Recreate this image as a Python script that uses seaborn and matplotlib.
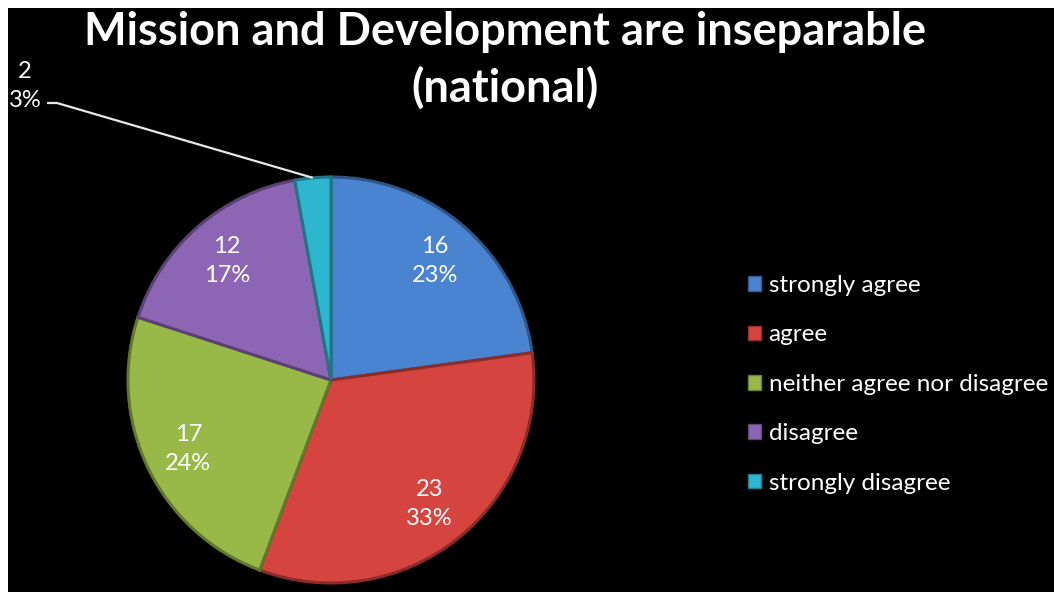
import numpy as np
import matplotlib
matplotlib.use("Agg")
import matplotlib.pyplot as plt
from matplotlib.patches import Rectangle, Patch
import seaborn as sns

# Survey responses
categories = ["strongly agree", "agree", "neither agree nor disagree",
              "disagree", "strongly disagree"]
counts = [16, 23, 17, 12, 2]
colors = ["#4A83CF", "#D6443F", "#98B948", "#8C66B4", "#2EB6CF"]
title = "Mission and Development are inseparable\n(national)"

sns.set_theme(style="dark")
plt.rcParams["font.family"] = ["Lato", "DejaVu Sans"]

W, H = 1054, 592
fig = plt.figure(figsize=(W / 100, H / 100), dpi=100, facecolor="white")
# black chart area
fig.patches.append(Rectangle((8 / W, 0), 1 - 8 / W, 1 - 8 / H,
                             transform=fig.transFigure, facecolor="black",
                             edgecolor="none", zorder=-5))

cx, cy, R = 331, 380, 203
ax = fig.add_axes([(cx - R) / W, (H - cy - R) / H, 2 * R / W, 2 * R / H])
ax.set_zorder(2)
ax.set_facecolor("none")
ax.axis("off")

total = sum(counts)
wedges, _ = ax.pie(counts, colors=colors, startangle=90, counterclock=False,
                   radius=1.0)
ax.set_xlim(-1, 1)
ax.set_ylim(-1, 1)
ax.set_aspect("equal")

# darker rim on each slice for a bevelled look
for w, c in zip(wedges, colors):
    rgb = np.array(matplotlib.colors.to_rgb(c))
    w.set_edgecolor(rgb * 0.65)
    w.set_linewidth(2.2)

# data labels
for w, n in zip(wedges, counts):
    pct = 100 * n / total
    mid = np.deg2rad((w.theta1 + w.theta2) / 2)
    text = f"{n}\n{pct:.0f}%"
    if pct < 5:
        ex, ey = np.cos(mid), np.sin(mid)
        tx, ty = (25 - cx) / R, (cy - 86) / R
        kx, ky = (57 - cx) / R, (cy - 103) / R
        ax.plot([ex, kx, (47 - cx) / R], [ey, ky, ky], color="#e8e8e8",
                lw=1.6, clip_on=False, solid_capstyle="butt")
        ax.text(tx, ty, text, color="white", fontsize=17, ha="center",
                va="center", linespacing=1.45, clip_on=False)
    else:
        r = 0.78
        ax.text(r * np.cos(mid), r * np.sin(mid), text, color="white",
                fontsize=17, ha="center", va="center", linespacing=1.45)

fig.text(505 / W, 1 - 60 / H, title, color="white", fontsize=32.5,
         fontweight="bold", ha="center", va="center", linespacing=1.38)

handles = [Patch(facecolor=c, edgecolor=np.array(matplotlib.colors.to_rgb(c)) * 0.7)
           for c in colors]
leg = fig.legend(handles, categories, loc="upper left",
                 bbox_to_anchor=(748 / W, 1 - 275 / H), frameon=False,
                 fontsize=17.5, labelcolor="white", handlelength=0.55,
                 handleheight=0.55, handletextpad=0.3, labelspacing=1.17,
                 borderaxespad=0, borderpad=0)

fig.savefig("out.png", dpi=100, facecolor="white")
